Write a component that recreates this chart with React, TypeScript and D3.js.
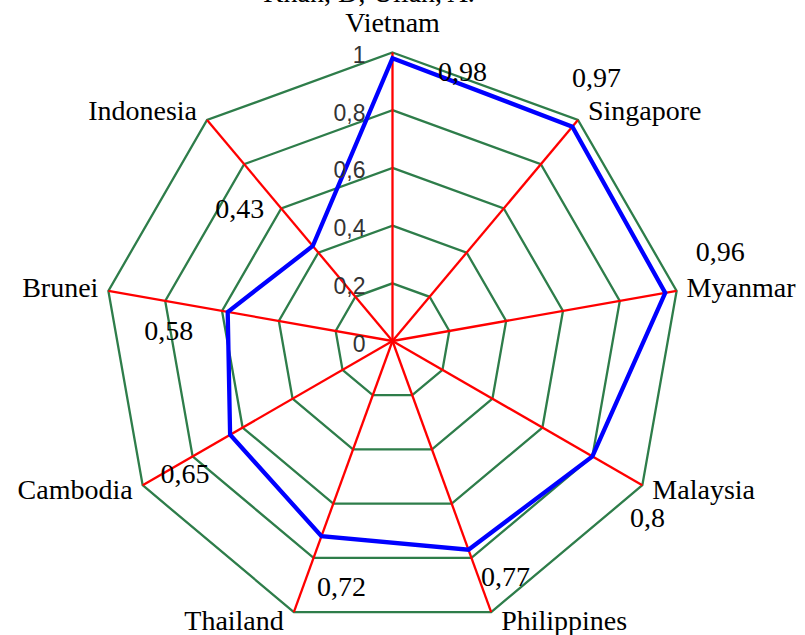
import { useRef, useEffect } from "react";
import * as d3 from "d3";

const countries = [
  "Vietnam",
  "Singapore",
  "Myanmar",
  "Malaysia",
  "Philippines",
  "Thailand",
  "Cambodia",
  "Brunei",
  "Indonesia",
];
const scores = [0.98, 0.97, 0.96, 0.8, 0.77, 0.72, 0.65, 0.58, 0.43];
const scoreLabels = ["0,98", "0,97", "0,96", "0,8", "0,77", "0,72", "0,65", "0,58", "0,43"];
const ticks = [0, 0.2, 0.4, 0.6, 0.8, 1];
const tickLabels = ["0", "0,2", "0,4", "0,6", "0,8", "1"];
const title = "Khan, D; Ullah, A.";

// hand-placed label nudges (px) relative to each data point, as in the source
const labelNudge: [number, number][] = [
  [70, 14], [24, -49], [55, -41], [55, 62], [37, 27],
  [20, 51], [-45, 39], [-59, 19], [-73, -37],
];

const WIDTH = 805;
const HEIGHT = 635;
const GREEN = "#2e7d4a";
const SERIF = "'Liberation Serif', 'Times New Roman', serif";
const SANS = "'Liberation Sans', Arial, sans-serif";
const FS = 28;

export default function App() {
  const svgRef = useRef<SVGSVGElement>(null);

  useEffect(() => {
    if (!svgRef.current) return;
    const svg = d3.select(svgRef.current);
    svg.selectAll("*").remove();

    const cx = 392.5;
    const cy = 341;
    const R = 288.5;
    const n = countries.length;

    const r = d3.scaleLinear().domain([0, 1]).range([0, R]);
    const angle = d3
      .scalePoint<string>()
      .domain(countries)
      .range([0, (2 * Math.PI * (n - 1)) / n]);

    const pt = (c: string, v: number): [number, number] => {
      const a = angle(c)!;
      return [cx + r(v) * Math.sin(a), cy - r(v) * Math.cos(a)];
    };

    const g = svg.append("g");

    // grid rings
    ticks
      .filter((t) => t > 0)
      .forEach((t) => {
        g.append("polygon")
          .attr("points", countries.map((c) => pt(c, t).join(",")).join(" "))
          .attr("fill", "none")
          .attr("stroke", GREEN)
          .attr("stroke-width", 2.3);
      });

    // spokes
    g.selectAll(".spoke")
      .data(countries)
      .enter()
      .append("line")
      .attr("x1", cx)
      .attr("y1", cy)
      .attr("x2", (c) => pt(c, 1)[0])
      .attr("y2", (c) => pt(c, 1)[1])
      .attr("stroke", "#ff0000")
      .attr("stroke-width", 2.3);

    // series
    const line = d3
      .line<string>()
      .x((c, i) => pt(c, scores[i])[0])
      .y((c, i) => pt(c, scores[i])[1])
      .curve(d3.curveLinearClosed);

    g.append("path")
      .attr("d", line(countries))
      .attr("fill", "none")
      .attr("stroke", "#0000ff")
      .attr("stroke-width", 4.3)
      .attr("stroke-linejoin", "miter");

    // tick labels
    g.selectAll(".tick")
      .data(ticks)
      .enter()
      .append("text")
      .attr("x", cx - 27)
      .attr("y", (t) => cy - r(t) + 10.5)
      .attr("text-anchor", "end")
      .attr("font-family", SANS)
      .attr("font-size", 23)
      .attr("fill", "#333")
      .text((t, i) => tickLabels[i]);

    // category labels
    countries.forEach((c) => {
      const a = angle(c)!;
      const [vx, vy] = pt(c, 1);
      const s = Math.sin(a);
      const anchor = Math.abs(s) < 0.01 ? "middle" : s > 0 ? "start" : "end";
      const x = anchor === "middle" ? vx : vx + (s > 0 ? 10 : -10);
      const y = anchor === "middle" ? vy - 21 : vy + 8 - 11 * Math.cos(a);
      g.append("text")
        .attr("x", x)
        .attr("y", y)
        .attr("text-anchor", anchor)
        .attr("font-family", SERIF)
        .attr("font-size", FS)
        .attr("fill", "#000")
        .text(c);
    });

    // data labels
    countries.forEach((c, i) => {
      const [px, py] = pt(c, scores[i]);
      g.append("text")
        .attr("x", px + labelNudge[i][0])
        .attr("y", py + labelNudge[i][1] + 9)
        .attr("text-anchor", "middle")
        .attr("font-family", SERIF)
        .attr("font-size", FS)
        .attr("fill", "#000")
        .text(scoreLabels[i]);
    });

    // title (clipped at top in the source)
    svg
      .append("text")
      .attr("x", 369)
      .attr("y", 2)
      .attr("text-anchor", "middle")
      .attr("font-family", SERIF)
      .attr("font-size", FS)
      .attr("fill", "#000")
      .text(title);
  }, []);

  return (
    <svg
      ref={svgRef}
      width={WIDTH}
      height={HEIGHT}
      style={{ position: "absolute", left: 0, top: 0, background: "#fff" }}
    />
  );
}
